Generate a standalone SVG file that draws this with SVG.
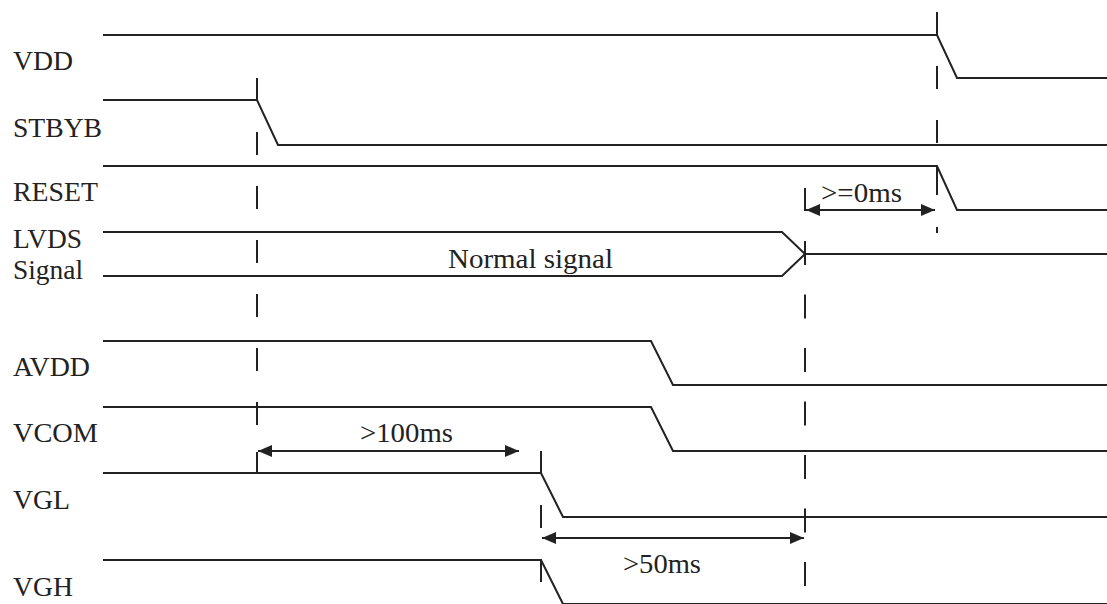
<svg xmlns="http://www.w3.org/2000/svg" width="1107" height="604" viewBox="0 0 1107 604">
<style>
.sig{fill:none;stroke:#222;stroke-width:2}
.dash{fill:none;stroke:#222;stroke-width:2;stroke-dasharray:23 31}
.tick{fill:none;stroke:#222;stroke-width:2}
.dim{fill:none;stroke:#222;stroke-width:2;marker-start:url(#ah);marker-end:url(#ah)}
text{font-family:"Liberation Serif",serif;font-size:27px;fill:#222}
</style>
<defs>
<marker id="ah" viewBox="0 0 14 12" refX="14" refY="6" markerWidth="14" markerHeight="12" markerUnits="userSpaceOnUse" orient="auto-start-reverse">
<path d="M0,0 L14,6 L0,12 Z" fill="#222"/>
</marker>
</defs>
<rect width="1107" height="604" fill="#fff"/>
<g id="labels">
<text x="13" y="70" textLength="60" lengthAdjust="spacingAndGlyphs">VDD</text>
<text x="13" y="137" textLength="89" lengthAdjust="spacingAndGlyphs">STBYB</text>
<text x="13" y="201" textLength="85" lengthAdjust="spacingAndGlyphs">RESET</text>
<text x="13" y="248" textLength="69" lengthAdjust="spacingAndGlyphs">LVDS</text>
<text x="13" y="279" textLength="70" lengthAdjust="spacingAndGlyphs">Signal</text>
<text x="13" y="376" textLength="77" lengthAdjust="spacingAndGlyphs">AVDD</text>
<text x="13" y="442" textLength="85" lengthAdjust="spacingAndGlyphs">VCOM</text>
<text x="13" y="509" textLength="57" lengthAdjust="spacingAndGlyphs">VGL</text>
<text x="13" y="596" textLength="60" lengthAdjust="spacingAndGlyphs">VGH</text>
</g>
<g id="VDD"><polyline class="sig" points="103,35 937,35 957,78 1107,78"/></g>
<g id="STBYB"><polyline class="sig" points="103,100 257,100 278,145 1107,145"/></g>
<g id="RESET"><polyline class="sig" points="103,166 937,166 957,210 1107,210"/></g>
<g id="LVDS">
<polyline class="sig" points="103,232 782,232 805,254 1107,254"/>
<polyline class="sig" points="103,276 782,276 805,254"/>
<text x="448" y="268" textLength="165" lengthAdjust="spacingAndGlyphs">Normal signal</text>
</g>
<g id="AVDD"><polyline class="sig" points="103,341 651,341 673,385 1107,385"/></g>
<g id="VCOM"><polyline class="sig" points="103,407 651,407 673,451 1107,451"/></g>
<g id="VGL"><polyline class="sig" points="103,473 541,473 563,517 1107,517"/></g>
<g id="VGH"><polyline class="sig" points="103,560 541,560 563,604 1107,604"/></g>
<g id="connectors">
<line class="dash" x1="257" y1="78" x2="257" y2="425"/>
<line class="tick" x1="257" y1="452" x2="257" y2="473"/>
<line class="dash" x1="937" y1="12" x2="937" y2="145"/>
<line class="tick" x1="937" y1="166" x2="937" y2="195"/>
<line class="tick" x1="937" y1="227" x2="937" y2="233"/>
<line class="tick" x1="805" y1="188" x2="805" y2="211"/>
<line class="dash" x1="805" y1="241" x2="805" y2="588" style="stroke-dasharray:24 29.5"/>
<line class="dash" x1="541" y1="451" x2="541" y2="582"/>
<line class="dim" x1="258" y1="451" x2="519" y2="451"/>
<line class="dim" x1="542" y1="538" x2="804" y2="538"/>
<line class="dim" x1="806" y1="210" x2="935" y2="210"/>
<text x="360" y="442" textLength="93" lengthAdjust="spacingAndGlyphs">&gt;100ms</text>
<text x="623" y="573" textLength="78" lengthAdjust="spacingAndGlyphs">&gt;50ms</text>
<text x="821" y="202" textLength="81" lengthAdjust="spacingAndGlyphs">&gt;=0ms</text>
</g>
</svg>
